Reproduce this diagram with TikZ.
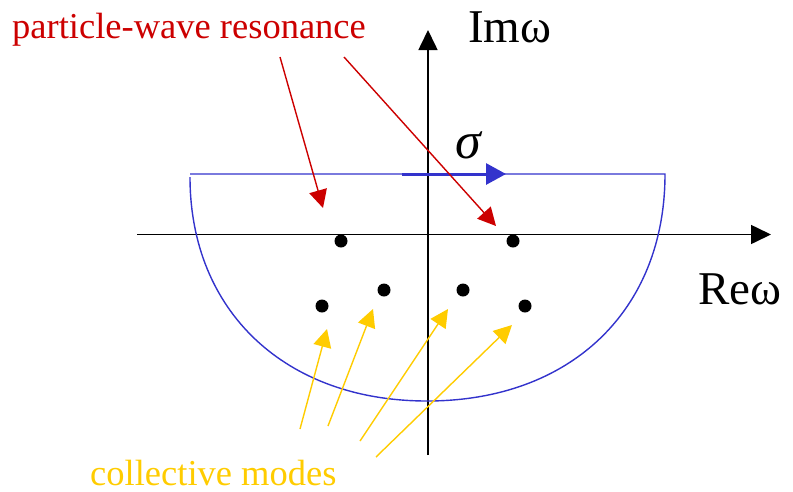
\documentclass[tikz,border=0pt]{standalone}
\usepackage{fontspec}
\setmainfont{Liberation Serif}
\newfontfamily\labelfont{Liberation Serif}
\usepackage{xcolor}
\usepackage{tikz}
\usetikzlibrary{arrows.meta}
\definecolor{PoleRed}{RGB}{204,0,0}
\definecolor{PoleBlue}{RGB}{51,51,204}
\definecolor{PoleGold}{RGB}{255,204,0}

\begin{document}
\begin{tikzpicture}[x=1pt,y=-1pt,
    axis/.style={black, line width=1.6pt, -{Triangle[length=20pt,width=19pt]}},
    pointer/.style={line width=1.4pt, -{Triangle[length=18pt,width=18pt]}},
    pole/.style={circle, fill=black, inner sep=0pt, minimum size=13pt},
    big/.style={font=\labelfont\fontsize{47}{52}\selectfont, anchor=base west, inner sep=0pt},
    small/.style={font=\labelfont\fontsize{36.5}{40}\selectfont, anchor=base west, inner sep=0pt}
  ]
    \useasboundingbox (0,0) rectangle (793,491);
    % axes
    \coordinate (xs) at (137,234.5);
    \coordinate (xe) at (771,234.5);
    \coordinate (ys) at (428,455);
    \coordinate (ye) at (428,30);
    \draw[axis] (xs) -- (xe);
    \draw[axis] (ys) -- (ye);
    \node[big] (im) at (468,42) {Imω};
    \node[big] (re) at (698,304) {Reω};
    % contour
    \coordinate (cl) at (190,174);
    \coordinate (cr) at (665,174);
    \coordinate (cb) at (427,401);
    \draw[PoleBlue, line width=1.4pt] (cl) -- (cr)
      .. controls (665,311) and (570,401) .. (cb)
      .. controls (285,401) and (190,311) .. (190,177);
    \coordinate (ss) at (402,174);
    \coordinate (se) at (506,174);
    \draw[PoleBlue, line width=3pt, -{Triangle[length=20pt,width=21pt]}] (ss) -- (se);
    \node[big,font=\labelfont\itshape\fontsize{52}{56}\selectfont] (sig) at (455,158) {σ};
    % poles
    \foreach \n/\p in {1/{341,241},2/{513,241},3/{322,306},4/{384,290},5/{463,290},6/{525,306}}
      {\node[pole] (d\n) at (\p) {};}
    % particle-wave resonance
    \node[small,text=PoleRed] (pw) at (12,38) {particle-wave resonance};
    \coordinate (r1s) at (280,57);
    \coordinate (r1e) at (323,208);
    \coordinate (r2s) at (344,57);
    \coordinate (r2e) at (496,226);
    \draw[pointer,PoleRed] (r1s) -- (r1e);
    \draw[pointer,PoleRed] (r2s) -- (r2e);
    % collective modes
    \node[small,text=PoleGold] (cm) at (90,485) {collective modes};
    \foreach \n/\a/\b in {1/{300,429}/{327,329},2/{328,426}/{373,309},3/{360,441}/{448,309},4/{376,457}/{512,325}}
      {\coordinate (y\n s) at (\a);
       \coordinate (y\n e) at (\b);
       \draw[pointer,PoleGold] (y\n s) -- (y\n e);}
\end{tikzpicture}
\end{document}
